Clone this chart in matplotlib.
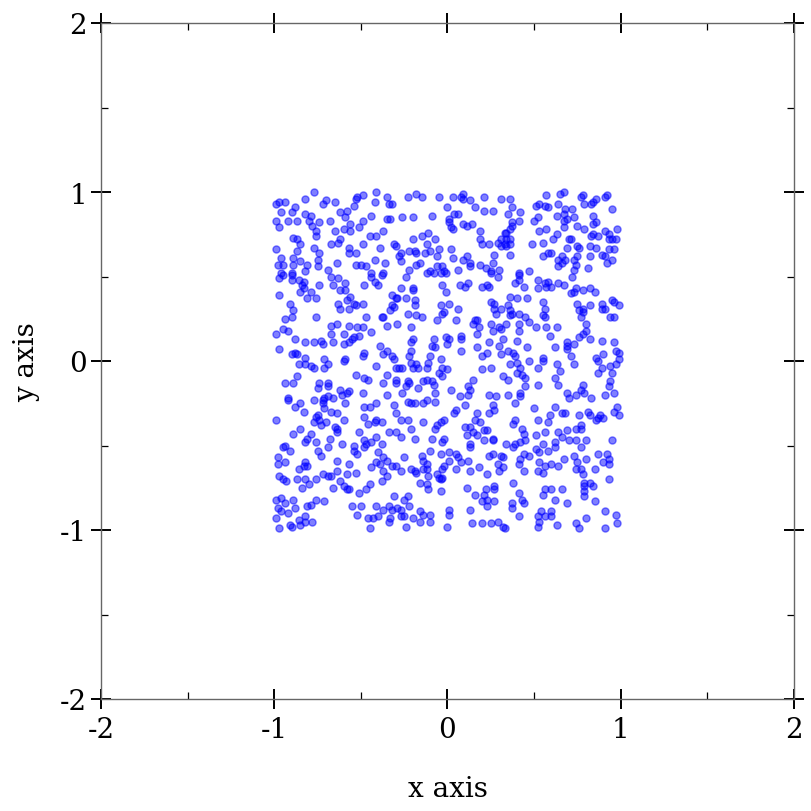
import numpy as np
import matplotlib
matplotlib.use("Agg")
import matplotlib.pyplot as plt
from matplotlib.ticker import MultipleLocator

# points, grouped by region (top row to bottom row, left to right)
pts_top_left = [
    (-0.99,0.93),(-0.97,0.94),(-0.94,0.94),(-0.96,0.88),(-0.99,0.83),(-0.97,0.79),(-0.92,0.83),(-0.87,0.83),
    (-0.90,0.88),(-0.88,0.91),(-0.82,0.96),(-0.77,1.00),(-0.72,0.93),(-0.70,0.95),(-0.65,0.94),(-0.62,0.88),
    (-0.58,0.89),(-0.59,0.85),(-0.56,0.81),(-0.54,0.92),(-0.53,0.96),(-0.52,0.97),(-0.49,0.98),(-0.42,0.94),
    (-0.41,1.00),(-0.35,0.97),(-0.34,0.93),(-0.35,0.84),(-0.44,0.86),(-0.49,0.83),(-0.51,0.79),(-0.56,0.77),
    (-0.60,0.78),(-0.65,0.77),(-0.68,0.83),(-0.74,0.82),(-0.78,0.80),(-0.80,0.83),(-0.79,0.86),(-0.82,0.87),
    (-0.76,0.77),(-0.76,0.74),(-0.89,0.73),(-0.87,0.72),(-0.85,0.69),(-0.87,0.65),(-0.89,0.61),(-0.99,0.66),
    (-0.96,0.61),(-0.98,0.57),(-0.95,0.57),(-0.89,0.57),(-0.85,0.59),(-0.81,0.57),(-0.75,0.60),(-0.74,0.64),
    (-0.77,0.67),(-0.75,0.56),(-0.69,0.54),(-0.64,0.58),(-0.67,0.69),(-0.63,0.70),(-0.62,0.72),(-0.57,0.67),
    (-0.57,0.64),(-0.53,0.64),(-0.49,0.69),(-0.45,0.74),(-0.41,0.74),(-0.37,0.77),(-0.39,0.67),(-0.53,0.57),
    (-0.50,0.57),(-0.47,0.56),(-0.42,0.60),(-0.36,0.58),(-0.82,0.53),(-0.96,0.52),(-0.90,0.52),(-0.44,0.52),
    (-0.37,0.52),
]
pts_top_mid = [
    (-0.32,0.93),(-0.23,0.97),(-0.18,0.99),(-0.15,0.97),(-0.05,0.97),(0.03,0.97),(0.08,0.97),(0.09,0.99),
    (0.09,0.96),(0.13,0.95),(0.16,0.91),(0.21,0.97),(0.31,0.96),(0.00,0.91),(0.04,0.87),(0.06,0.87),
    (0.01,0.84),(0.01,0.82),(0.02,0.79),(0.03,0.78),(0.09,0.81),(0.11,0.80),(0.14,0.81),(0.19,0.77),
    (0.21,0.89),(0.26,0.89),(-0.26,0.85),(-0.20,0.85),(-0.09,0.86),(-0.20,0.72),(-0.15,0.74),(-0.11,0.76),
    (-0.07,0.72),(-0.12,0.69),(-0.31,0.69),(-0.30,0.68),(-0.27,0.64),(-0.28,0.62),(-0.27,0.59),(-0.22,0.65),
    (-0.19,0.65),(-0.18,0.64),(-0.13,0.64),(-0.10,0.65),(-0.05,0.66),(-0.06,0.62),(0.02,0.66),(0.03,0.61),
    (0.09,0.60),(0.11,0.62),(0.13,0.58),(0.13,0.56),(0.19,0.57),(0.22,0.55),(0.26,0.58),(0.27,0.63),
    (0.19,0.72),(0.20,0.69),(0.24,0.69),(0.29,0.70),(0.31,0.72),(0.33,0.76),(0.33,0.69),(0.31,0.68),
    (-0.18,0.57),(-0.16,0.58),(-0.22,0.54),(-0.10,0.53),(-0.06,0.56),(-0.03,0.56),(-0.02,0.53),(0.06,0.54),
    (0.30,0.54),(0.25,0.53),(-0.33,0.84),
]
pts_top_right = [
    (0.36,0.96),(0.35,0.87),(0.37,0.91),(0.42,0.88),(0.41,0.83),(0.37,0.82),(0.37,0.80),(0.36,0.78),
    (0.34,0.76),(0.34,0.72),(0.36,0.72),(0.36,0.69),(0.34,0.68),(0.36,0.63),(0.57,0.98),(0.65,0.99),
    (0.67,1.00),(0.51,0.92),(0.53,0.93),(0.56,0.92),(0.58,0.91),(0.64,0.93),(0.68,0.90),(0.72,0.90),
    (0.67,0.87),(0.67,0.83),(0.69,0.84),(0.63,0.86),(0.50,0.83),(0.52,0.85),(0.73,0.85),(0.75,0.80),
    (0.77,0.97),(0.78,0.98),(0.79,0.93),(0.83,0.93),(0.84,0.94),(0.86,0.96),(0.91,0.97),(0.92,0.98),
    (0.95,0.90),(0.84,0.86),(0.86,0.82),(0.84,0.81),(0.79,0.78),(0.84,0.75),(0.83,0.74),(0.87,0.74),
    (0.93,0.75),(0.93,0.72),(0.95,0.72),(0.97,0.72),(0.98,0.78),(0.91,0.77),(0.67,0.79),(0.63,0.75),
    (0.57,0.78),(0.53,0.77),(0.61,0.72),(0.55,0.70),(0.49,0.69),(0.70,0.72),(0.71,0.72),(0.75,0.68),
    (0.76,0.67),(0.69,0.67),(0.82,0.68),(0.86,0.67),(0.89,0.63),(0.91,0.62),(0.93,0.66),(0.96,0.66),
    (0.95,0.60),(0.92,0.58),(0.82,0.62),(0.75,0.62),(0.73,0.60),(0.74,0.57),(0.73,0.54),(0.81,0.55),
    (0.66,0.62),(0.64,0.60),(0.68,0.60),(0.66,0.58),(0.58,0.64),(0.60,0.64),(0.55,0.62),(0.41,0.52),
    (0.47,0.53),(0.64,0.56),
]
pts_upper_left = [
    (-0.97,0.49),(-0.95,0.51),(-0.90,0.51),(-0.90,0.48),(-0.86,0.48),(-0.83,0.47),(-0.84,0.45),(-0.83,0.43),
    (-0.85,0.41),(-0.79,0.41),(-0.74,0.45),(-0.81,0.37),(-0.76,0.37),(-0.97,0.39),(-0.91,0.34),(-0.89,0.30),
    (-0.90,0.26),(-0.94,0.25),(-0.95,0.19),(-0.92,0.18),(-0.99,0.16),(-0.88,0.13),(-0.97,0.07),(-0.90,0.04),
    (-0.88,0.05),(-0.87,0.04),(-0.82,0.02),(-0.82,0.11),(-0.77,0.11),(-0.73,0.12),(-0.72,0.10),(-0.67,0.50),
    (-0.63,0.49),(-0.59,0.46),(-0.66,0.45),(-0.62,0.42),(-0.59,0.42),(-0.56,0.38),(-0.58,0.36),(-0.54,0.34),
    (-0.53,0.33),(-0.57,0.31),(-0.63,0.34),(-0.62,0.31),(-0.48,0.45),(-0.44,0.50),(-0.42,0.47),(-0.40,0.45),
    (-0.38,0.51),(-0.49,0.34),(-0.47,0.26),(-0.38,0.26),(-0.37,0.26),(-0.35,0.21),(-0.44,0.17),(-0.49,0.20),
    (-0.52,0.20),(-0.51,0.15),(-0.55,0.13),(-0.57,0.11),(-0.60,0.16),(-0.66,0.11),(-0.67,0.16),(-0.67,0.21),
    (-0.64,0.22),(-0.57,0.21),(-0.60,0.10),(-0.54,0.14),(-0.76,0.26),(-0.39,0.09),(-0.35,0.06),(-0.37,0.04),
    (-0.48,0.05),(-0.49,0.03),(-0.59,0.01),(-0.71,0.01),
]
pts_upper_mid = [
    (-0.24,0.50),(-0.12,0.52),(-0.08,0.52),(-0.04,0.52),(-0.01,0.52),(0.25,0.52),(0.29,0.50),(-0.27,0.43),
    (-0.20,0.43),(-0.20,0.42),(-0.03,0.45),(-0.01,0.41),(0.07,0.45),(0.10,0.44),(0.12,0.46),(0.20,0.44),
    (0.23,0.45),(0.24,0.44),(-0.32,0.39),(-0.30,0.37),(-0.29,0.37),(-0.32,0.33),(-0.31,0.32),(-0.33,0.30),
    (-0.24,0.37),(-0.19,0.36),(-0.19,0.33),(-0.04,0.33),(0.01,0.34),(0.06,0.31),(0.25,0.35),(0.27,0.34),
    (0.27,0.31),(0.28,0.28),(0.31,0.31),(-0.23,0.28),(-0.18,0.27),(-0.15,0.26),(-0.06,0.24),(-0.03,0.28),
    (-0.02,0.29),(0.05,0.24),(0.15,0.22),(0.16,0.24),(0.17,0.24),(0.18,0.20),(0.17,0.16),(0.25,0.22),
    (0.30,0.20),(0.26,0.18),(0.31,0.19),(0.32,0.13),(0.30,0.09),(-0.21,0.20),(-0.29,0.22),(-0.20,0.13),
    (-0.21,0.11),(-0.08,0.13),(-0.09,0.09),(-0.07,0.08),(-0.01,0.14),(0.01,0.13),(0.00,0.10),(0.08,0.15),
    (0.08,0.13),(0.08,0.06),(0.17,0.08),(0.24,0.11),(0.23,0.05),(0.20,0.03),(0.31,0.04),(-0.22,0.03),
    (-0.32,0.03),(-0.31,0.01),(-0.10,0.03),(-0.04,0.01),(-0.21,0.06),
]
pts_upper_right = [
    (0.41,0.51),(0.41,0.48),(0.39,0.46),(0.44,0.44),(0.52,0.48),(0.56,0.46),(0.58,0.47),(0.57,0.44),
    (0.52,0.43),(0.60,0.44),(0.64,0.46),(0.67,0.45),(0.72,0.50),(0.74,0.43),(0.73,0.41),(0.71,0.40),
    (0.78,0.42),(0.82,0.43),(0.85,0.41),(0.36,0.38),(0.40,0.37),(0.46,0.37),(0.35,0.33),(0.36,0.30),
    (0.36,0.27),(0.37,0.28),(0.41,0.28),(0.45,0.26),(0.47,0.23),(0.41,0.22),(0.34,0.22),(0.55,0.35),
    (0.56,0.31),(0.55,0.27),(0.56,0.26),(0.51,0.20),(0.57,0.20),(0.63,0.20),(0.59,0.15),(0.41,0.18),
    (0.40,0.12),(0.35,0.06),(0.38,0.05),(0.39,0.03),(0.46,0.08),(0.55,0.02),(0.62,0.08),(0.69,0.11),
    (0.69,0.09),(0.69,0.07),(0.73,0.10),(0.76,0.14),(0.78,0.16),(0.80,0.18),(0.82,0.13),(0.80,0.22),
    (0.76,0.30),(0.78,0.31),(0.78,0.29),(0.77,0.26),(0.75,0.34),(0.82,0.33),(0.89,0.34),(0.89,0.31),
    (0.91,0.31),(0.95,0.36),(0.96,0.35),(0.99,0.33),(0.94,0.26),(0.96,0.26),(0.89,0.12),(0.96,0.11),
    (0.97,0.06),(0.99,0.05),(0.90,0.04),(0.86,0.02),(0.71,0.03),(0.99,0.01),
]
pts_lower_left = [
    (-0.86,-0.02),(-0.82,-0.02),(-0.79,-0.03),(-0.77,-0.04),(-0.71,-0.04),(-0.69,-0.02),(-0.60,0.00),(-0.87,-0.09),
    (-0.89,-0.13),(-0.94,-0.13),(-0.92,-0.22),(-0.92,-0.23),(-0.88,-0.27),(-0.85,-0.25),(-0.83,-0.30),(-0.99,-0.35),
    (-0.77,-0.23),(-0.74,-0.13),(-0.69,-0.13),(-0.69,-0.15),(-0.75,-0.16),(-0.72,-0.23),(-0.71,-0.22),(-0.69,-0.21),
    (-0.66,-0.22),(-0.72,-0.25),(-0.71,-0.28),(-0.67,-0.30),(-0.64,-0.31),(-0.75,-0.32),(-0.76,-0.33),(-0.74,-0.35),
    (-0.70,-0.36),(-0.77,-0.36),(-0.73,-0.38),(-0.65,-0.39),(-0.64,-0.40),(-0.64,-0.42),(-0.60,-0.35),(-0.59,-0.25),
    (-0.62,-0.17),(-0.61,-0.20),(-0.58,-0.19),(-0.57,-0.18),(-0.53,-0.08),(-0.48,-0.10),(-0.46,-0.11),(-0.49,-0.19),
    (-0.41,-0.03),(-0.37,-0.13),(-0.35,-0.08),(-0.35,-0.20),(-0.41,-0.25),(-0.45,-0.27),(-0.48,-0.27),(-0.48,-0.33),
    (-0.46,-0.37),(-0.42,-0.36),(-0.41,-0.35),(-0.38,-0.36),(-0.51,-0.42),(-0.48,-0.47),(-0.47,-0.49),(-0.41,-0.45),
    (-0.44,-0.48),(-0.38,-0.49),(-0.34,-0.42),(-0.79,-0.43),(-0.81,-0.46),(-0.82,-0.48),(-0.85,-0.40),(-0.89,-0.43),
    (-0.94,-0.50),(-0.76,-0.48),(-0.68,-0.46),(-0.54,-0.50),(-0.61,-0.49),(-0.69,-0.51),
]
pts_lower_mid = [
    (-0.30,-0.04),(-0.28,-0.04),(-0.26,-0.04),(-0.21,-0.01),(-0.18,-0.02),(-0.20,-0.04),(-0.17,-0.04),(-0.12,-0.04),
    (-0.11,-0.01),(-0.03,-0.04),(-0.05,-0.07),(0.00,-0.05),(-0.03,-0.09),(-0.30,-0.11),(-0.30,-0.13),(-0.23,-0.12),
    (-0.22,-0.13),(-0.24,-0.15),(-0.17,-0.16),(-0.14,-0.12),(-0.12,-0.11),(-0.09,-0.12),(-0.08,-0.14),(-0.26,-0.19),
    (-0.31,-0.26),(-0.30,-0.31),(-0.27,-0.35),(-0.23,-0.35),(-0.23,-0.24),(-0.21,-0.25),(-0.19,-0.25),(-0.14,-0.25),
    (-0.12,-0.23),(-0.07,-0.19),(-0.07,-0.24),(0.02,-0.17),(0.07,-0.21),(0.10,-0.26),(0.04,-0.31),(0.05,-0.29),
    (0.12,-0.15),(0.13,-0.17),(0.12,-0.20),(0.15,-0.11),(0.20,-0.05),(0.25,-0.04),(0.32,-0.09),(0.24,-0.20),
    (0.28,-0.21),(0.26,-0.26),(0.27,-0.29),(0.24,-0.31),(0.17,-0.31),(0.16,-0.35),(0.10,-0.39),(0.13,-0.39),
    (0.15,-0.42),(0.17,-0.44),(0.21,-0.41),(0.23,-0.41),(0.19,-0.36),(0.26,-0.46),(0.26,-0.47),(0.21,-0.47),
    (0.13,-0.49),(0.11,-0.44),(-0.04,-0.36),(-0.06,-0.38),(-0.02,-0.35),(-0.07,-0.40),(-0.02,-0.46),(-0.03,-0.48),
    (-0.09,-0.46),(-0.14,-0.36),(-0.21,-0.40),(-0.27,-0.45),(-0.19,-0.46),(-0.30,-0.42),
]
pts_lower_right = [
    (0.36,-0.02),(0.40,-0.01),(0.42,-0.04),(0.40,-0.07),(0.43,-0.08),(0.45,-0.10),(0.45,-0.15),(0.35,-0.11),
    (0.47,0.00),(0.52,-0.04),(0.55,0.00),(0.63,-0.02),(0.65,-0.06),(0.62,-0.10),(0.64,-0.14),(0.73,-0.02),
    (0.87,0.00),(0.89,-0.04),(0.87,-0.07),(0.94,-0.03),(0.97,-0.02),(0.95,-0.07),(0.94,-0.12),(0.93,-0.15),
    (0.96,-0.19),(0.91,-0.20),(0.78,-0.14),(0.77,-0.17),(0.79,-0.19),(0.74,-0.20),(0.70,-0.22),(0.69,-0.19),
    (0.83,-0.22),(0.35,-0.20),(0.42,-0.19),(0.42,-0.21),(0.39,-0.25),(0.50,-0.28),(0.52,-0.14),(0.62,-0.27),
    (0.59,-0.32),(0.66,-0.31),(0.68,-0.31),(0.76,-0.32),(0.81,-0.30),(0.82,-0.32),(0.86,-0.35),(0.87,-0.34),
    (0.88,-0.32),(0.90,-0.34),(0.96,-0.30),(0.98,-0.27),(0.99,-0.32),(0.38,-0.37),(0.39,-0.35),(0.52,-0.35),
    (0.58,-0.36),(0.43,-0.40),(0.44,-0.43),(0.45,-0.47),(0.42,-0.48),(0.39,-0.49),(0.51,-0.44),(0.56,-0.42),
    (0.64,-0.42),(0.69,-0.41),(0.74,-0.40),(0.77,-0.40),(0.77,-0.38),(0.66,-0.45),(0.70,-0.47),(0.74,-0.47),
    (0.80,-0.47),(0.62,-0.48),(0.95,-0.47),(0.34,-0.49),(0.55,-0.49),
]
pts_bottom_left = [
    (-0.95,-0.51),(-0.91,-0.53),(-0.75,-0.53),(-0.73,-0.56),(-0.98,-0.57),(-0.94,-0.60),(-0.98,-0.61),(-0.82,-0.60),
    (-0.83,-0.62),(-0.81,-0.62),(-0.86,-0.64),(-0.97,-0.68),(-0.95,-0.70),(-0.93,-0.71),(-0.87,-0.70),(-0.82,-0.70),
    (-0.80,-0.73),(-0.84,-0.75),(-0.76,-0.70),(-0.72,-0.67),(-0.69,-0.68),(-0.67,-0.68),(-0.64,-0.65),(-0.64,-0.59),
    (-0.57,-0.61),(-0.58,-0.67),(-0.62,-0.71),(-0.60,-0.74),(-0.58,-0.76),(-0.57,-0.76),(-0.66,-0.75),(-0.53,-0.66),
    (-0.54,-0.53),(-0.52,-0.55),(-0.48,-0.51),(-0.40,-0.54),(-0.37,-0.57),(-0.35,-0.59),(-0.39,-0.61),(-0.41,-0.60),
    (-0.44,-0.63),(-0.37,-0.65),(-0.35,-0.68),(-0.38,-0.71),(-0.45,-0.73),(-0.47,-0.76),(-0.51,-0.78),(-0.99,-0.82),
    (-0.96,-0.81),(-0.89,-0.82),(-0.94,-0.84),(-0.98,-0.87),(-0.96,-0.89),(-0.88,-0.87),(-0.81,-0.86),(-0.79,-0.85),
    (-0.76,-0.82),(-0.71,-0.83),(-0.99,-0.93),(-0.97,-0.99),(-0.91,-0.97),(-0.90,-0.98),(-0.86,-0.94),(-0.82,-0.92),
    (-0.82,-0.95),(-0.78,-0.95),(-0.85,-0.97),(-0.92,-0.90),(-0.55,-0.86),(-0.50,-0.86),(-0.52,-0.91),(-0.46,-0.93),
    (-0.43,-0.93),(-0.40,-0.92),(-0.41,-0.86),(-0.37,-0.88),(-0.34,-0.86),(-0.34,-0.95),(-0.45,-0.99),
]
pts_bottom_mid = [
    (-0.25,-0.57),(-0.32,-0.62),(-0.30,-0.62),(-0.27,-0.65),(-0.21,-0.64),(-0.19,-0.65),(-0.18,-0.66),(-0.15,-0.56),
    (-0.14,-0.59),(-0.12,-0.61),(-0.14,-0.64),(-0.12,-0.64),(-0.11,-0.68),(-0.10,-0.53),(-0.04,-0.55),(0.01,-0.54),
    (0.05,-0.55),(0.06,-0.57),(0.01,-0.59),(-0.02,-0.62),(-0.03,-0.64),(-0.06,-0.67),(-0.05,-0.69),(-0.04,-0.70),
    (-0.03,-0.69),(0.05,-0.64),(0.08,-0.60),(0.12,-0.59),(0.13,-0.51),(0.18,-0.63),(0.23,-0.67),(0.24,-0.56),
    (0.26,-0.55),(0.29,-0.61),(0.30,-0.65),(0.32,-0.63),(0.13,-0.65),(-0.16,-0.72),(-0.12,-0.73),(-0.11,-0.76),
    (-0.04,-0.77),(0.11,-0.75),(0.22,-0.76),(0.21,-0.79),(0.16,-0.79),(0.20,-0.83),(0.23,-0.82),(0.27,-0.83),
    (0.27,-0.74),(0.27,-0.76),(0.23,-0.86),(-0.31,-0.80),(-0.25,-0.82),(-0.23,-0.80),(-0.22,-0.86),(-0.32,-0.88),
    (-0.29,-0.87),(-0.27,-0.88),(-0.27,-0.92),(-0.25,-0.92),(-0.33,-0.93),(-0.20,-0.93),(-0.16,-0.95),(-0.16,-0.89),
    (-0.14,-0.91),(-0.10,-0.91),(-0.10,-0.95),(0.01,-0.88),(0.01,-0.91),(0.13,-0.88),(0.00,-0.98),(0.14,-0.96),
    (0.20,-0.96),(0.25,-0.96),(0.29,-0.95),(0.32,-0.98),(0.31,-0.56),(0.32,-0.57),(-0.24,-0.98),
]
pts_bottom_right = [
    (0.38,-0.51),(0.44,-0.55),(0.47,-0.56),(0.42,-0.58),(0.41,-0.61),(0.44,-0.65),(0.51,-0.52),(0.53,-0.54),
    (0.58,-0.53),(0.62,-0.51),(0.53,-0.60),(0.56,-0.62),(0.52,-0.65),(0.55,-0.66),(0.60,-0.61),(0.64,-0.62),
    (0.67,-0.58),(0.73,-0.56),(0.77,-0.51),(0.75,-0.60),(0.74,-0.64),(0.77,-0.64),(0.78,-0.67),(0.80,-0.58),
    (0.85,-0.64),(0.87,-0.55),(0.92,-0.55),(0.93,-0.58),(0.90,-0.60),(0.93,-0.61),(0.38,-0.72),(0.41,-0.78),
    (0.43,-0.82),(0.44,-0.84),(0.37,-0.84),(0.37,-0.87),(0.41,-0.92),(0.56,-0.76),(0.60,-0.76),(0.66,-0.76),
    (0.55,-0.79),(0.62,-0.82),(0.69,-0.84),(0.79,-0.74),(0.79,-0.72),(0.82,-0.72),(0.84,-0.74),(0.79,-0.77),
    (0.79,-0.80),(0.85,-0.83),(0.93,-0.70),(0.54,-0.89),(0.60,-0.89),(0.52,-0.92),(0.53,-0.95),(0.52,-0.98),
    (0.56,-0.92),(0.60,-0.92),(0.63,-0.97),(0.74,-0.96),(0.76,-0.99),(0.80,-0.93),(0.91,-0.89),(0.97,-0.91),
    (0.98,-0.96),(0.91,-0.99),(0.33,-0.99),
]

groups = [pts_top_left, pts_top_mid, pts_top_right,
          pts_upper_left, pts_upper_mid, pts_upper_right,
          pts_lower_left, pts_lower_mid, pts_lower_right,
          pts_bottom_left, pts_bottom_mid, pts_bottom_right]
pts = np.array([p for g in groups for p in g])

x_ticks = [-2, -1, 0, 1, 2]
y_ticks = [-2, -1, 0, 1, 2]

plt.rcParams["font.family"] = "DejaVu Serif"

fig = plt.figure(figsize=(8.12, 8.12), dpi=100)
ax = fig.add_axes([101/812, 112/812, 693/812, 676/812])

ax.scatter(pts[:, 0], pts[:, 1], s=26, color="blue", alpha=0.5, linewidths=1.0, zorder=3)

ax.set_xlim(-2, 2)
ax.set_ylim(-2, 2)
ax.set_xticks(x_ticks)
ax.set_yticks(y_ticks)
ax.set_xticklabels([str(t) for t in x_ticks])
ax.set_yticklabels([str(t) for t in y_ticks])
ax.xaxis.set_minor_locator(MultipleLocator(0.5))
ax.yaxis.set_minor_locator(MultipleLocator(0.5))

ax.tick_params(which="major", direction="inout", length=14, width=1.4, color="black",
               labelsize=20, top=True, right=True)
ax.tick_params(which="minor", direction="in", length=5, width=0.9, color="black",
               top=True, right=True)
ax.tick_params(axis="x", which="major", pad=5)
ax.tick_params(axis="y", which="major", pad=3)

for s in ax.spines.values():
    s.set_color("#666666")
    s.set_linewidth(1)

ax.set_xlabel("x axis", fontsize=20, labelpad=23)
ax.set_ylabel("y axis", fontsize=20, labelpad=14)

fig.savefig("out.png", dpi=100)
